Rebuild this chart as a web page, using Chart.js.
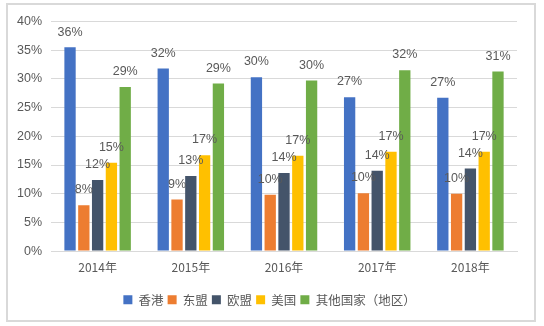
<!DOCTYPE html>
<html>
<head>
<meta charset="utf-8">
<script src="https://cdn.jsdelivr.net/npm/chart.js@4"></script>
<style>
  body { margin: 0; background: #fff; }
  #box {
    position: absolute; left: 6px; top: 3px;
    width: 526px; height: 315px;
    border: 2px solid #d9d9d9; background: #fff;
  }
</style>
</head>
<body>
<div id="box"><canvas id="tradeChart"></canvas></div>
<script>
const years = ['2014年', '2015年', '2016年', '2017年', '2018年'];
const hongKong = [35.5, 31.8, 30.3, 26.8, 26.7];
const asean = [8.0, 9.0, 9.8, 10.1, 10.0];
const eu = [12.4, 13.1, 13.6, 14.0, 14.4];
const usa = [15.4, 16.7, 16.6, 17.3, 17.3];
const others = [28.6, 29.2, 29.7, 31.5, 31.3];
const yTicks = [0, 5, 10, 15, 20, 25, 30, 35, 40];

const textColor = '#595959';
const fontFamily = "'Noto Sans CJK SC', 'Liberation Sans', sans-serif";

// value labels above each bar
const barLabels = {
    id: 'barLabels',
    afterDatasetsDraw(chart) {
        const ctx = chart.ctx;
        ctx.save();
        ctx.fillStyle = textColor;
        ctx.font = "12.5px 'Liberation Sans', sans-serif";
        ctx.textAlign = 'center';
        ctx.textBaseline = 'bottom';
        chart.data.datasets.forEach((ds, i) => {
            chart.getDatasetMeta(i).data.forEach((bar, j) => {
                ctx.fillText(Math.round(ds.data[j]) + '%', bar.x, bar.y - 9);
            });
        });
        ctx.restore();
    }
};

// nudge the legend row a little to the right
const legendShift = {
    id: 'legendShift',
    afterLayout(chart) {
        chart.legend.left += 7;
        chart.legend.right += 7;
    }
};

function series(label, data, color) {
    return {
        label: label,
        data: data,
        backgroundColor: color,
        borderWidth: 0,
        barPercentage: 0.82,
        categoryPercentage: 0.74
    };
}

new Chart(document.getElementById('tradeChart').getContext('2d'), {
    type: 'bar',
    data: {
        labels: years,
        datasets: [
            series('香港', hongKong, '#4472c4'),
            series('东盟', asean, '#ed7d31'),
            series('欧盟', eu, '#44546a'),
            series('美国', usa, '#ffc000'),
            series('其他国家（地区）', others, '#70ad47')
        ]
    },
    options: {
        responsive: true,
        maintainAspectRatio: false,
        animation: false,
        layout: {
            padding: { top: 10, right: 17, bottom: 4, left: 0 }
        },
        plugins: {
            legend: {
                position: 'bottom',
                labels: {
                    boxWidth: 9,
                    boxHeight: 9,
                    padding: 4,
                    color: textColor,
                    font: { family: fontFamily, size: 12.5 }
                }
            },
            tooltip: { enabled: false }
        },
        scales: {
            x: {
                grid: { display: false },
                border: { color: '#d9d9d9', width: 1 },
                ticks: {
                    color: textColor,
                    padding: 1,
                    font: { family: fontFamily, size: 12 }
                },
                // extra room between the year labels and the legend
                afterFit: scale => { scale.height += 14; }
            },
            y: {
                min: 0,
                max: 40,
                afterBuildTicks: axis => {
                    axis.ticks = yTicks.map(v => ({ value: v }));
                },
                grid: { color: '#d9d9d9', drawTicks: false },
                border: { display: false },
                ticks: {
                    color: textColor,
                    padding: 9,
                    font: { family: "'Liberation Sans', sans-serif", size: 12.5 },
                    callback: v => v + '%'
                }
            }
        }
    },
    plugins: [barLabels, legendShift]
});
</script>
</body>
</html>
